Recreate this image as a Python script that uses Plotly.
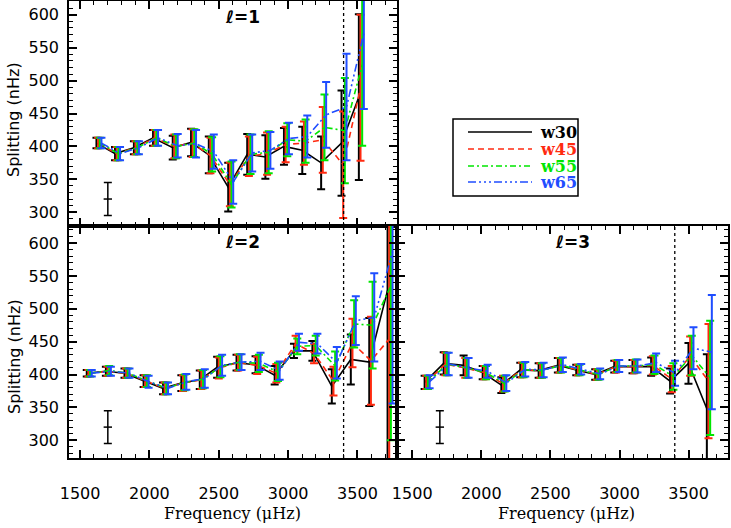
import plotly.graph_objects as go
from plotly.subplots import make_subplots

# ---- data ----
series_names = ["w30", "w45", "w55", "w65"]

# l=1
l1_freq = [1618, 1752, 1888, 2026, 2168, 2300, 2428, 2568, 2705, 2836, 2970, 3102, 3238, 3385, 3510]
l1_w30 = [405, 389, 398, 413, 398, 406, 387, 338, 388, 384, 400, 394, 375, 405, 475]
l1_w30_err = [8, 10, 10, 12, 18, 21, 28, 37, 31, 33, 28, 36, 40, 80, 126]
l1_w45 = [405, 389, 398, 413, 400, 405, 386, 342, 385, 389, 403, 405, 410, 372, 489]
l1_w45_err = [8, 10, 10, 12, 18, 21, 27, 33, 30, 32, 27, 33, 50, 81, 111]
l1_w55 = [405, 389, 398, 413, 400, 405, 388, 342, 388, 391, 410, 408, 429, 424, 524]
l1_w55_err = [8, 10, 10, 12, 18, 21, 26, 35, 30, 32, 25, 33, 50, 80, 123]
l1_w65 = [405, 389, 398, 413, 401, 404, 392, 346, 390, 394, 412, 415, 448, 460, 572]
l1_w65_err = [8, 10, 10, 12, 18, 21, 26, 33, 28, 28, 24, 32, 50, 81, 115]

# l=2
l2_freq = [1548, 1686, 1820, 1958, 2098, 2230, 2363, 2488, 2628, 2765, 2903, 3042, 3175, 3315, 3452, 3585, 3717]
l2_w30 = [402, 405, 402, 390, 379, 387, 392, 411, 418, 415, 399, 436, 436, 382, 423, 419, 528]
l2_w30_err = [5, 7, 7, 9, 9, 12, 14, 16, 12, 13, 14, 11, 15, 26, 38, 67, 260]
l2_w45 = [402, 405, 402, 390, 379, 387, 392, 410, 418, 414, 402, 447, 432, 390, 448, 421, 454]
l2_w45_err = [5, 7, 7, 9, 9, 12, 14, 16, 12, 13, 14, 12, 15, 22, 37, 67, 250]
l2_w55 = [402, 406, 402, 390, 379, 388, 393, 412, 419, 417, 404, 443, 444, 413, 477, 475, 535]
l2_w55_err = [5, 7, 7, 9, 9, 12, 14, 16, 12, 13, 14, 12, 15, 22, 36, 66, 235]
l2_w65 = [402, 405, 402, 389, 379, 389, 394, 414, 419, 420, 406, 449, 447, 418, 482, 487, 587]
l2_w65_err = [5, 7, 7, 9, 9, 12, 14, 16, 12, 13, 14, 13, 15, 24, 37, 67, 231]

# l=3
l3_freq = [1590, 1728, 1872, 2010, 2145, 2282, 2415, 2554, 2687, 2824, 2962, 3094, 3229, 3366, 3499, 3632]
l3_w30 = [388, 417, 414, 403, 384, 407, 406, 414, 407, 400, 412, 412, 412, 390, 417, 348]
l3_w30_err = [10, 17, 15, 10, 12, 11, 11, 11, 8, 8, 9, 10, 14, 19, 31, 83]
l3_w45 = [388, 416, 410, 403, 386, 407, 406, 414, 407, 400, 412, 412, 414, 393, 428, 390]
l3_w45_err = [10, 17, 15, 10, 12, 11, 11, 11, 8, 8, 9, 10, 14, 20, 30, 87]
l3_w55 = [388, 416, 410, 403, 386, 407, 406, 414, 407, 400, 413, 413, 415, 397, 429, 395]
l3_w55_err = [10, 17, 15, 10, 12, 11, 11, 11, 8, 8, 9, 10, 14, 20, 30, 87]
l3_w65 = [389, 416, 410, 405, 387, 408, 407, 415, 408, 401, 413, 413, 418, 402, 440, 434]
l3_w65_err = [10, 17, 15, 10, 12, 11, 11, 11, 8, 8, 9, 10, 14, 19, 32, 87]

# typical error bar drawn in each panel
ref_freq = [1700]
ref_val = [320]
ref_err = [25]

cutoff_freq = 3400

colors = ["black", "#ff2a10", "#00e600", "#1f4dff"]
dashes = ["solid", "6px,4px", "6px,3px,2px,3px", "8px,3px,2px,3px,2px,3px,2px,3px"]
dodge = 12  # small horizontal shift between series, as in the original

panels = [
    (1, 1, "ℓ=1", l1_freq, [l1_w30, l1_w45, l1_w55, l1_w65],
     [l1_w30_err, l1_w45_err, l1_w55_err, l1_w65_err]),
    (2, 1, "ℓ=2", l2_freq, [l2_w30, l2_w45, l2_w55, l2_w65],
     [l2_w30_err, l2_w45_err, l2_w55_err, l2_w65_err]),
    (2, 2, "ℓ=3", l3_freq, [l3_w30, l3_w45, l3_w55, l3_w65],
     [l3_w30_err, l3_w45_err, l3_w55_err, l3_w65_err]),
]

# ---- page geometry (pixels) ----
W, H = 731, 528
ml, mr, mt, mb = 69, 3, 1, 70


def px(x):
    return (x - ml) / (W - ml - mr)


def py(y):
    return (H - mb - y) / (H - mt - mb)


fig = make_subplots(rows=2, cols=2, specs=[[{}, None], [{}, {}]],
                    horizontal_spacing=0, vertical_spacing=0)

for row, col, label, freq, vals, errs in panels:
    for i in range(len(series_names)):
        fig.add_trace(go.Scatter(
            x=[f + i * dodge for f in freq], y=vals[i], mode='lines',
            name=series_names[i], showlegend=False,
            line=dict(color=colors[i], width=1.6, dash=dashes[i]),
            error_y=dict(type='data', array=errs[i], color=colors[i],
                         thickness=2, width=4)),
            row=row, col=col)
    fig.add_trace(go.Scatter(
        x=ref_freq, y=ref_val, mode='markers', showlegend=False,
        marker=dict(symbol='line-ew', size=6, line=dict(width=1.5, color='black')),
        error_y=dict(type='data', array=ref_err, color='black', thickness=1.5, width=4)),
        row=row, col=col)
    fig.add_vline(x=cutoff_freq, line=dict(color='black', dash='dot', width=1.3),
                  row=row, col=col)
    fig.add_annotation(text='<b>' + label + '</b>', xref='x domain', yref='y domain',
                       x=0.53, y=0.93, xanchor='center', yanchor='middle',
                       showarrow=False,
                       font=dict(family='DejaVu Sans', size=17, color='black'),
                       row=row, col=col)

axis_font = dict(family='DejaVu Sans', size=16, color='black')
xcommon = dict(tick0=1500, dtick=500, ticks='inside', ticklen=8,
               tickwidth=1.5, tickcolor='black', showline=True, linecolor='black',
               linewidth=1.5, mirror='allticks', showgrid=False, zeroline=False,
               minor=dict(dtick=100, ticks='inside', ticklen=4, tickwidth=1, tickcolor='black'),
               tickfont=axis_font, ticklabelstandoff=20, automargin=False)
ycommon = dict(tick0=300, dtick=50, ticks='inside', ticklen=8,
               tickwidth=1.5, tickcolor='black', showline=True, linecolor='black',
               linewidth=1.5, mirror='allticks', showgrid=False, zeroline=False,
               minor=dict(dtick=10, ticks='inside', ticklen=4, tickwidth=1, tickcolor='black'),
               tickfont=axis_font, ticklabelstandoff=5, automargin=False)

split = py(226)
fig.update_layout(
    xaxis=dict(xcommon, domain=[0, px(397)], range=[1420, 3785], showticklabels=False),
    yaxis=dict(ycommon, domain=[split, 1], range=[279, 621]),
    xaxis2=dict(xcommon, domain=[0, px(397)], range=[1420, 3785]),
    yaxis2=dict(ycommon, domain=[0, split], range=[273, 626]),
    xaxis3=dict(xcommon, domain=[px(397), 1], range=[1390, 3785]),
    yaxis3=dict(ycommon, domain=[0, split], range=[273, 626], showticklabels=False),
)

# axis titles
title_sans = dict(family='DejaVu Sans', size=16, color='black')
title_serif = dict(family='DejaVu Serif', size=16, color='black')
for yc in [120, 357]:
    fig.add_annotation(text='Splitting (nHz)', xref='paper', yref='paper',
                       x=px(14), y=py(yc), textangle=-90, showarrow=False,
                       xanchor='center', yanchor='middle', font=title_sans)
for xc in [232, 566]:
    fig.add_annotation(text='Frequency (μHz)', xref='paper', yref='paper',
                       x=px(xc), y=py(513), showarrow=False,
                       xanchor='center', yanchor='middle', font=title_serif)

# ---- hand-drawn legend in the empty top-right slot ----
fig.add_shape(type='rect', xref='paper', yref='paper',
              x0=px(453), x1=px(578), y0=py(196), y1=py(119),
              line=dict(color='black', width=1.5), fillcolor='white')
rows_y = [132, 149, 166, 182]
for i, name in enumerate(series_names):
    fig.add_shape(type='line', xref='paper', yref='paper',
                  x0=px(468), x1=px(532), y0=py(rows_y[i]), y1=py(rows_y[i]),
                  line=dict(color=colors[i], width=1.6, dash=dashes[i]))
    fig.add_annotation(text='<b>' + name + '</b>', xref='paper', yref='paper',
                       x=px(539), y=py(rows_y[i]), xanchor='left', yanchor='middle',
                       showarrow=False, borderpad=0,
                       font=dict(family='DejaVu Serif', size=16, color=colors[i]))

fig.update_layout(
    width=W, height=H,
    margin=dict(l=ml, r=mr, t=mt, b=mb),
    plot_bgcolor='white', paper_bgcolor='white',
    showlegend=False,
)

# the page body has a default 8px margin; drop it so the figure fills the window
fig.write_html("out.html", config={'displayModeBar': False},
               post_script="document.body.style.margin='0px';")
